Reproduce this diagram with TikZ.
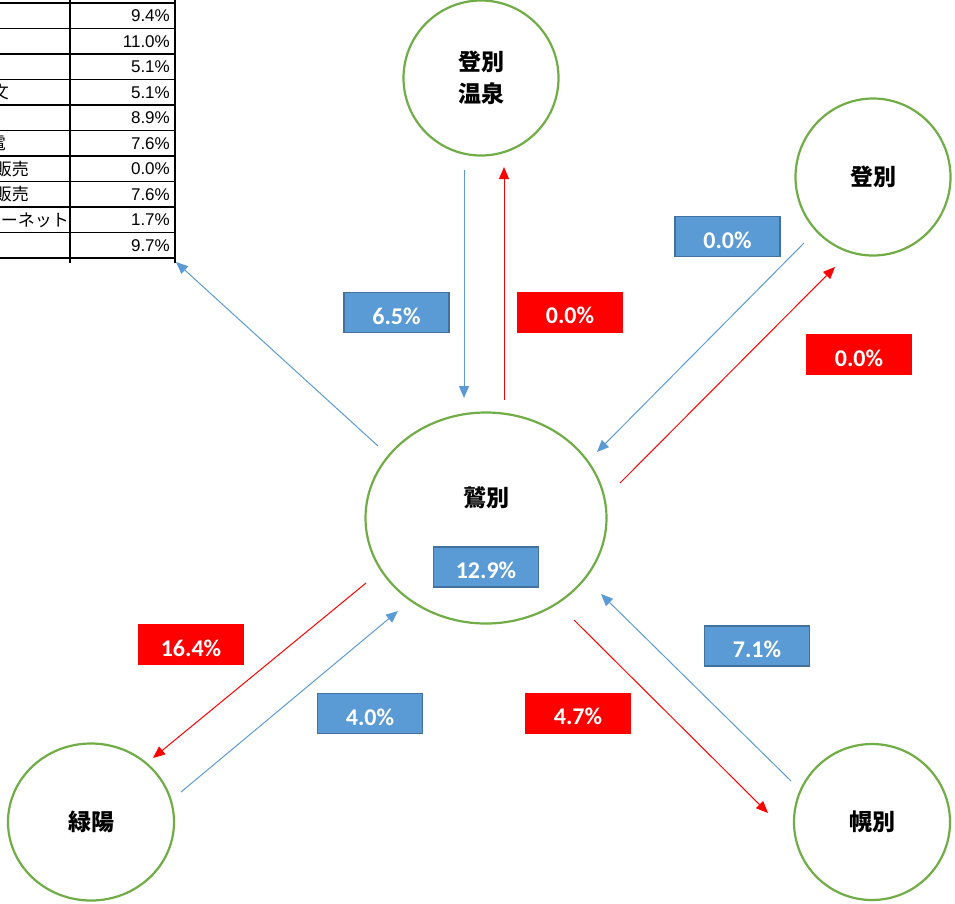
\documentclass[tikz,border=0pt]{standalone}
\usepackage{fontspec}
\setmainfont{Liberation Sans}
\newfontfamily\jpfont{Noto Sans CJK JP}
\newfontfamily\calfont{Carlito}
\usetikzlibrary{arrows.meta,shapes.geometric}
\definecolor{grn}{HTML}{70AD47}
\definecolor{bfill}{HTML}{5B9BD5}
\definecolor{bbord}{HTML}{41719C}
\definecolor{bline}{HTML}{5B9BD5}
\definecolor{rfill}{HTML}{FF0000}
\tikzset{
  place/.style={draw=grn, line width=2.2pt, ellipse, inner sep=0pt, align=center,
    font=\jpfont\bfseries\fontsize{23}{32}\selectfont},
  placetext/.style={font=\jpfont\bfseries\fontsize{23}{32}\selectfont, inner sep=0pt},
  pctbox/.style={minimum width=105pt, minimum height=40pt, inner sep=0pt,
    text height=23pt, text depth=0pt, text=white, font=\calfont\bfseries\fontsize{24}{28}\selectfont},
  bluebox/.style={pctbox, draw=bbord, fill=bfill, line width=1.4pt},
  redbox/.style={pctbox, fill=rfill, minimum width=106pt, minimum height=41pt},
  bflow/.style={draw=bline, line width=1pt, -{Triangle[length=12pt,width=10pt]}},
  rflow/.style={draw=rfill, line width=1pt, -{Triangle[length=12pt,width=10pt]}},
  tline/.style={draw=black, line width=1.8pt},
  tnum/.style={anchor=east, inner sep=0pt, font=\fontsize{17}{20}\selectfont},
  tlab/.style={anchor=east, inner sep=0pt, font=\jpfont\fontsize{17}{20}\selectfont},
}
\begin{document}
\begin{tikzpicture}[x=1pt,y=-1pt]
\useasboundingbox (0,0) rectangle (955,903);

% ---- table (cut off at the left edge)
\begin{scope}
\clip (0,0) rectangle (200,270);
\foreach \yy in {3,28.5,54,79.5,105,130.5,156,181.5,207,232.5,258}
  \draw[tline] (-5,\yy) -- (175,\yy);
\draw[tline] (70,0) -- (70,263);
\draw[tline] (175,0) -- (175,263);
\node[tnum] (v1) at (170,16) {9.4\%};
\node[tnum] (v2) at (170,41.5) {11.0\%};
\node[tnum] (v3) at (170,67) {5.1\%};
\node[tnum] (v4) at (170,92.5) {5.1\%};
\node[tnum] (v5) at (170,118) {8.9\%};
\node[tnum] (v6) at (170,143.5) {7.6\%};
\node[tnum] (v7) at (170,169) {0.0\%};
\node[tnum] (v8) at (170,194.5) {7.6\%};
\node[tnum] (v9) at (170,220) {1.7\%};
\node[tnum] (v10) at (170,245.5) {9.7\%};
\node[tlab] (l4) at (9,92.5) {文};
\node[tlab] (l6) at (6,143.5) {家電};
\node[tlab] (l7) at (29,169) {訪問販売};
\node[tlab] (l8) at (29,194.5) {通信販売};
\node[tlab] (l9) at (69,220) {インターネット};
\end{scope}
\coordinate (tbl) at (176,262);

% ---- places
\node[place, minimum width=155pt, minimum height=155pt] (onsen) at (481,78) {登別\\温泉};
\node[place, minimum width=155pt, minimum height=157pt] (nobo) at (873,177) {登別};
\node[place, minimum width=241pt, minimum height=211pt] (washi) at (486,518) {};
\node[placetext] (washit) at (486,498) {鷲別};
\node[place, minimum width=166pt, minimum height=157pt] (ryoku) at (91,822) {緑陽};
\node[place, minimum width=156pt, minimum height=156pt] (horo) at (872,822) {幌別};

% ---- connector end points
\coordinate (a1s) at (464,170);  \coordinate (a1e) at (464,398);
\coordinate (a2s) at (504,400);  \coordinate (a2e) at (504,167);
\coordinate (a3s) at (378,446);
\coordinate (a4s) at (804,243);  \coordinate (a4e) at (597,452);
\coordinate (a5s) at (620,483);  \coordinate (a5e) at (835,267);
\coordinate (a6s) at (366,583);  \coordinate (a6e) at (153,758);
\coordinate (a7s) at (181,792);  \coordinate (a7e) at (398,611);
\coordinate (a8s) at (574,620);  \coordinate (a8e) at (768,813);
\coordinate (a9s) at (791,781);  \coordinate (a9e) at (601,594);

\draw[bflow] (a1s) -- (a1e);
\draw[rflow] (a2s) -- (a2e);
\draw[bflow] (a3s) -- (tbl);
\draw[bflow] (a4s) -- (a4e);
\draw[rflow] (a5s) -- (a5e);
\draw[rflow] (a6s) -- (a6e);
\draw[bflow] (a7s) -- (a7e);
\draw[rflow] (a8s) -- (a8e);
\draw[bflow] (a9s) -- (a9e);

% ---- labels
\node[bluebox] (p1) at (396.5,312.5) {6.5\%};
\node[redbox]  (p2) at (570,312) {0.0\%};
\node[bluebox] (p3) at (727.5,236.5) {0.0\%};
\node[redbox]  (p4) at (859,354.5) {0.0\%};
\node[bluebox] (p5) at (486,567) {12.9\%};
\node[redbox]  (p6) at (191,644.5) {16.4\%};
\node[bluebox] (p7) at (370,713.5) {4.0\%};
\node[redbox]  (p8) at (578,713) {4.7\%};
\node[bluebox] (p9) at (757,646) {7.1\%};
\end{tikzpicture}
\end{document}
